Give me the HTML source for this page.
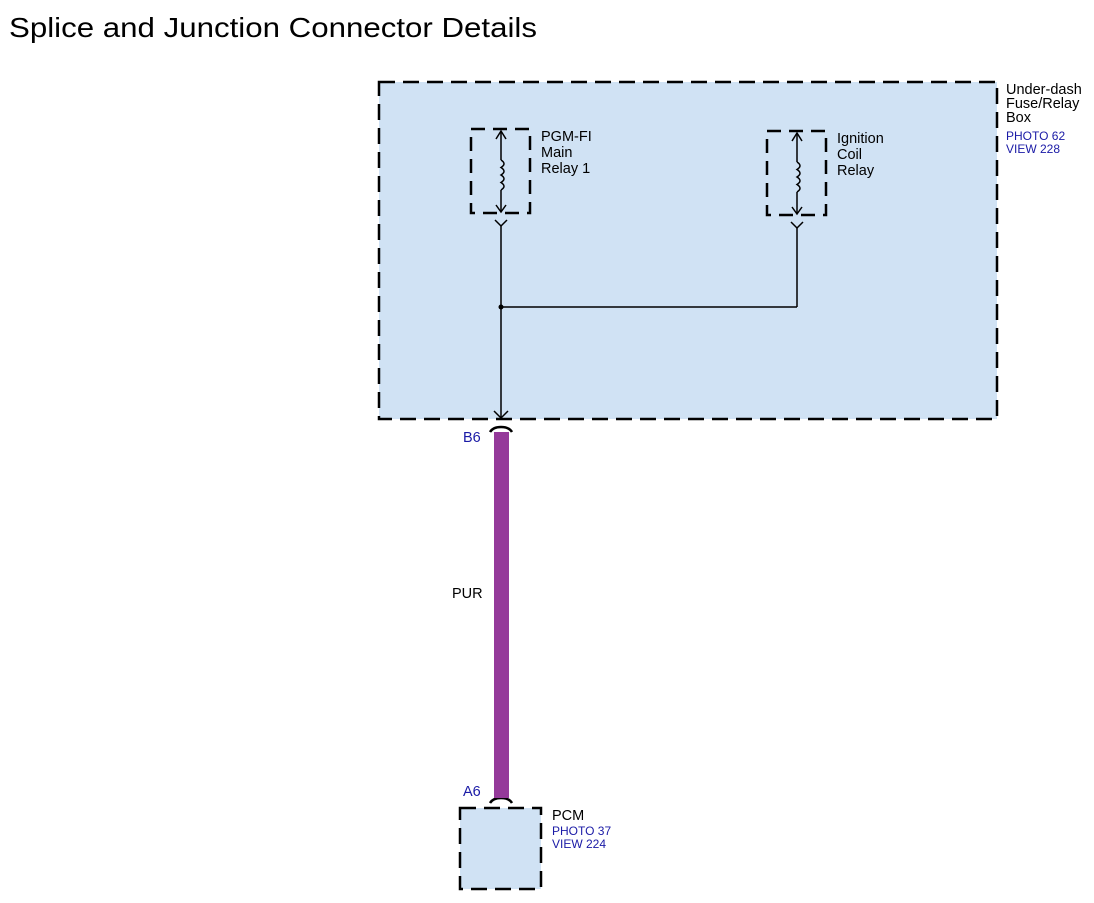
<!DOCTYPE html>
<html><head><style>body{margin:0;background:#fff}svg{display:block}</style></head><body>
<svg width="1094" height="903" xmlns="http://www.w3.org/2000/svg" font-family="Liberation Sans, sans-serif">
<rect width="1094" height="903" fill="#fff"/>
<text x="9" y="37" font-size="28" textLength="528" lengthAdjust="spacingAndGlyphs" fill="#000">Splice and Junction Connector Details</text>
<rect x="379" y="82" width="618" height="337" fill="#d0e2f4" stroke="#000" stroke-width="2.5" stroke-dasharray="16,8"/>
<g font-size="14.5" fill="#000"><text x="1006" y="94">Under-dash</text><text x="1006" y="108">Fuse/Relay</text><text x="1006" y="122">Box</text></g>
<g font-size="12" fill="#1a1aa6"><text x="1006" y="140">PHOTO 62</text><text x="1006" y="153">VIEW 228</text></g>
<rect x="471" y="129" width="59" height="84" fill="none" stroke="#000" stroke-width="2.5" stroke-dasharray="14,8"/>
<g stroke="#000" stroke-width="1.5" fill="none">
<line x1="501" y1="131" x2="501" y2="160"/><line x1="501" y1="190" x2="501" y2="212"/>
<path d="M496 139 L501 131 L506 139"/><path d="M496 205 L501 212 L506 205"/>
<path d="M501 160 q6 3.75 0 7.5 q6 3.75 0 7.5 q6 3.75 0 7.5 q6 3.75 0 7.5"/>
<path d="M495 220 L501 226 L507 220"/><line x1="501" y1="226" x2="501" y2="419"/>
<rect x="767" y="131" width="59" height="84" stroke-width="2.5" stroke-dasharray="14,8"/>
<line x1="797" y1="133" x2="797" y2="162"/><line x1="797" y1="192" x2="797" y2="214"/>
<path d="M792 141 L797 133 L802 141"/><path d="M792 207 L797 214 L802 207"/>
<path d="M797 162 q6 3.75 0 7.5 q6 3.75 0 7.5 q6 3.75 0 7.5 q6 3.75 0 7.5"/>
<path d="M791 222 L797 228 L803 222"/><line x1="797" y1="228" x2="797" y2="307"/>
<line x1="501" y1="307" x2="797" y2="307"/>
<path d="M494 411 L501 418 L508 411"/>
<path d="M490 432 Q493 427 501 427 Q509 427 512 432" stroke-width="2.5"/>
<path d="M490 803 Q493 798 501 798 Q509 798 512 803" stroke-width="2.5"/>
</g>
<circle cx="501" cy="307" r="2.5" fill="#000"/>
<g font-size="14.5" fill="#000"><text x="541" y="141">PGM-FI</text><text x="541" y="157">Main</text><text x="541" y="173">Relay 1</text>
<text x="837" y="143">Ignition</text><text x="837" y="159">Coil</text><text x="837" y="175">Relay</text></g>
<rect x="494" y="432" width="15" height="366" fill="#953a9a"/>
<text x="452" y="598" font-size="14.5">PUR</text>
<text x="463" y="442" font-size="14.5" fill="#1a1aa6">B6</text>
<text x="463" y="796" font-size="14.5" fill="#1a1aa6">A6</text>
<rect x="460" y="808" width="81" height="81" fill="#d0e2f4" stroke="#000" stroke-width="2.5" stroke-dasharray="16,8"/>
<text x="552" y="820" font-size="14.5">PCM</text>
<g font-size="12" fill="#1a1aa6"><text x="552" y="835">PHOTO 37</text><text x="552" y="848">VIEW 224</text></g>
</svg>
</body></html>
